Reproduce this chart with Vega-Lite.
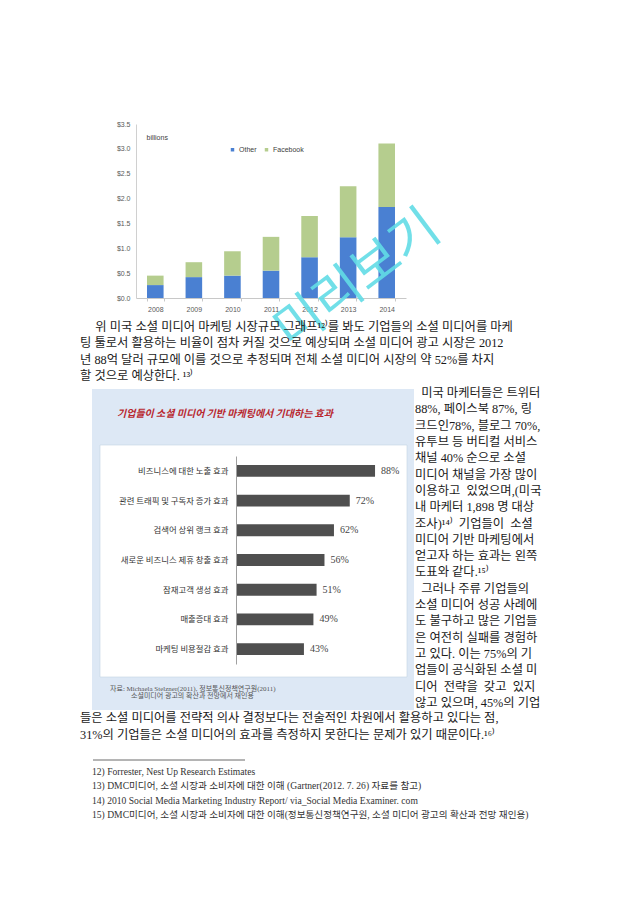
{
  "$schema": "https://vega.github.io/schema/vega-lite/v6.json",
  "padding": 0,
  "background": "white",
  "spacing": 0,
  "bounds": "flush",
  "config": {"view": {"stroke": null}, "font": "Liberation Sans"},
  "vconcat": [
    {
      "width": 640,
      "height": 298,
      "layer": [
        {
          "data": {"values": [
            {"year": "2008", "series": "Other", "value": 0.26},
            {"year": "2008", "series": "Facebook", "value": 0.19},
            {"year": "2009", "series": "Other", "value": 0.42},
            {"year": "2009", "series": "Facebook", "value": 0.30},
            {"year": "2010", "series": "Other", "value": 0.45},
            {"year": "2010", "series": "Facebook", "value": 0.49},
            {"year": "2011", "series": "Other", "value": 0.55},
            {"year": "2011", "series": "Facebook", "value": 0.68},
            {"year": "2012", "series": "Other", "value": 0.82},
            {"year": "2012", "series": "Facebook", "value": 0.83},
            {"year": "2013", "series": "Other", "value": 1.22},
            {"year": "2013", "series": "Facebook", "value": 1.03},
            {"year": "2014", "series": "Other", "value": 1.83},
            {"year": "2014", "series": "Facebook", "value": 1.28}
          ]},
          "mark": {"type": "bar"},
          "encoding": {
            "x": {"field": "year", "type": "ordinal",
              "scale": {"range": [136, 406], "paddingInner": 0.57, "paddingOuter": 0.285},
              "axis": {"title": null, "labelFontSize": 7, "labelColor": "#595959", "labelPadding": 4, "labelAngle": 0,
                "domainColor": "#c8c8c8", "ticks": true, "tickBand": "extent", "tickSize": 3, "tickColor": "#c8c8c8"}},
            "y": {"field": "value", "type": "quantitative", "stack": "zero",
              "scale": {"domain": [0, 3.5], "range": [298, 124], "nice": false},
              "axis": {"offset": -136, "values": [0, 0.5, 1, 1.5, 2, 2.5, 3, 3.5], "format": "$.1f",
                "labelFontSize": 7, "labelColor": "#595959", "labelPadding": 6, "ticks": false, "grid": false,
                "domainColor": "#d0d0d0", "title": "billions", "titleAngle": 0, "titleX": 10, "titleY": 137,
                "titleAlign": "left", "titleBaseline": "middle", "titleFontSize": 7, "titleFontWeight": "normal", "titleColor": "#404040"}},
            "color": {"field": "series", "type": "nominal",
              "scale": {"domain": ["Other", "Facebook"], "range": ["#4a80d2", "#b5cd8e"]},
              "legend": {"orient": "none", "legendX": 229, "legendY": 146, "direction": "horizontal", "title": null,
                "labelFontSize": 7, "labelColor": "#404040", "symbolType": "square", "symbolSize": 12,
                "symbolStrokeWidth": 0, "labelOffset": 3, "columnPadding": 6, "padding": 0}},
            "order": {"field": "series", "sort": "descending"}
          }
        },
        {
          "data": {"values": [{"year": "2013", "value": 0.22, "t": "미리보기"}]},
          "mark": {"type": "text", "angle": -37, "fontSize": 52, "font": "Noto Sans CJK KR", "fill": "#62dce5", "fillOpacity": 0.9, "align": "center", "baseline": "middle", "dx": 12},
          "encoding": {
            "x": {"field": "year", "type": "ordinal"},
            "y": {"field": "value", "type": "quantitative"},
            "text": {"field": "t"}
          }
        }
      ]
    },
    {
      "width": 640,
      "height": 86,
      "data": {"values": [
        {"i": 0, "t": "\u200b\u3000\u00a0위 미국 소셜 미디어 마케팅 시장규모 그래프¹²⁾를 봐도 기업들의 소셜 미디어를 마케"},
        {"i": 1, "t": "팅 툴로서 활용하는 비율이 점차 커질 것으로 예상되며 소셜 미디어 광고 시장은 2012"},
        {"i": 2, "t": "년 88억 달러 규모에 이를 것으로 추정되며 전체 소셜 미디어 시장의 약 52%를 차지"},
        {"i": 3, "t": "할 것으로 예상한다. ¹³⁾"}
      ]},
      "mark": {"type": "text", "align": "left", "baseline": "middle", "fontSize": 12.3, "font": "Liberation Serif, Noto Sans CJK KR", "color": "#1a1a1a"},
      "encoding": {
        "x": {"datum": 0, "type": "quantitative", "scale": {"domain": [0, 1], "range": [80, 550]}, "axis": null},
        "y": {"field": "i", "type": "quantitative", "scale": {"domain": [0, 3], "range": [28.7, 77.9]}, "axis": null},
        "text": {"field": "t"}
      }
    },
    {
      "width": 640,
      "height": 326,
      "resolve": {"scale": {"x": "independent", "y": "independent"}, "axis": {"x": "independent", "y": "independent"}},
      "layer": [
        {
          "data": {"values": [{}]},
          "mark": {"type": "rect", "color": "#dde8f5"},
          "encoding": {
            "x": {"datum": 0, "type": "quantitative", "scale": {"domain": [0, 1], "range": [92, 414]}, "axis": null},
            "x2": {"datum": 1},
            "y": {"datum": 0, "type": "quantitative", "scale": {"domain": [0, 1], "range": [5, 326]}, "axis": null},
            "y2": {"datum": 1}
          }
        },
        {
          "data": {"values": [{}]},
          "mark": {"type": "rect", "fill": "#ffffff", "stroke": "#c5d3e3", "strokeWidth": 0.6},
          "encoding": {
            "x": {"datum": 0, "type": "quantitative", "scale": {"domain": [0, 1], "range": [100, 407]}, "axis": null},
            "x2": {"datum": 1},
            "y": {"datum": 0, "type": "quantitative", "scale": {"domain": [0, 1], "range": [61, 293]}, "axis": null},
            "y2": {"datum": 1}
          }
        },
        {
          "data": {"values": [{"i": 0, "t": "기업들이 소셜 미디어 기반 마케팅에서 기대하는 효과"}]},
          "mark": {"type": "text", "align": "left", "baseline": "middle", "fontSize": 10, "fontWeight": "bold", "fontStyle": "italic", "font": "Noto Sans CJK KR", "color": "#b8272e"},
          "encoding": {
            "x": {"datum": 0, "type": "quantitative", "scale": {"domain": [0, 1], "range": [117, 118]}, "axis": null},
            "y": {"field": "i", "type": "quantitative", "scale": {"domain": [0, 1], "range": [30, 31]}, "axis": null},
            "text": {"field": "t"}
          }
        },
        {
          "data": {"values": [
            {"label": "비즈니스에 대한 노출 효과", "pct": 0.88},
            {"label": "관련 트래픽 및 구독자 증가 효과", "pct": 0.72},
            {"label": "검색어 상위 랭크 효과", "pct": 0.62},
            {"label": "새로운 비즈니스 제휴 창출 효과", "pct": 0.56},
            {"label": "잠재고객 생성 효과", "pct": 0.51},
            {"label": "매출증대 효과", "pct": 0.49},
            {"label": "마케팅 비용절감 효과", "pct": 0.43}
          ]},
          "layer": [
            {
              "mark": {"type": "bar", "color": "#4f4f4f"},
              "encoding": {
                "x": {"field": "pct", "type": "quantitative", "scale": {"domain": [0, 1], "range": [236, 394], "nice": false}, "axis": null},
                "y": {"field": "label", "type": "nominal", "sort": null,
                  "scale": {"range": [72, 280], "paddingInner": 0.6, "paddingOuter": 0.3},
                  "axis": {"orient": "left", "offset": -236, "zindex": 2, "title": null, "ticks": false, "domainColor": "#a0a0a0",
                    "labelFontSize": 8.4, "labelColor": "#333333", "labelPadding": 8, "labelFont": "Noto Sans CJK KR"}}
              }
            },
            {
              "mark": {"type": "text", "align": "left", "baseline": "middle", "dx": 6, "fontSize": 10, "font": "Liberation Serif", "color": "#454545"},
              "encoding": {
                "x": {"field": "pct", "type": "quantitative"},
                "y": {"field": "label", "type": "nominal", "sort": null},
                "text": {"field": "pct", "type": "quantitative", "format": ".0%"}
              }
            }
          ]
        },
        {
          "data": {"values": [
            {"i": 0, "t": "자료: Michaela Stelzner(2011), 정보통신정책연구원(2011)"},
            {"i": 1, "t": "\u200b\u3000\u3000\u3000소셜미디어 광고의 확산과 전망에서 재인용"}
          ]},
          "mark": {"type": "text", "align": "left", "baseline": "middle", "fontSize": 7, "font": "Liberation Serif, Noto Sans CJK KR", "color": "#555555"},
          "encoding": {
            "x": {"datum": 0, "type": "quantitative", "scale": {"domain": [0, 1], "range": [110, 111]}, "axis": null},
            "y": {"field": "i", "type": "quantitative", "scale": {"domain": [0, 1], "range": [305, 312]}, "axis": null},
            "text": {"field": "t"}
          }
        },
        {
          "data": {"values": [
            {"i": 0, "t": "\u200b\u00a0\u00a0미국 마케터들은 트위터"},
            {"i": 1, "t": "88%, 페이스북 87%, 링"},
            {"i": 2, "t": "크드인78%, 블로그 70%,"},
            {"i": 3, "t": "유투브 등 버티컬 서비스"},
            {"i": 4, "t": "채널 40% 순으로 소셜"},
            {"i": 5, "t": "미디어 채널을 가장 많이"},
            {"i": 6, "t": "이용하고\u00a0 있었으며,(미국"},
            {"i": 7, "t": "내 마케터 1,898 명 대상"},
            {"i": 8, "t": "조사)¹⁴⁾\u00a0 기업들이\u00a0 소셜"},
            {"i": 9, "t": "미디어 기반 마케팅에서"},
            {"i": 10, "t": "얻고자 하는 효과는 왼쪽"},
            {"i": 11, "t": "도표와 같다.¹⁵⁾"},
            {"i": 12, "t": "\u200b\u00a0\u00a0그러나 주류 기업들의"},
            {"i": 13, "t": "소셜 미디어 성공 사례에"},
            {"i": 14, "t": "도 불구하고 많은 기업들"},
            {"i": 15, "t": "은 여전히 실패를 경험하"},
            {"i": 16, "t": "고 있다. 이는 75%의 기"},
            {"i": 17, "t": "업들이 공식화된 소셜 미"},
            {"i": 18, "t": "디어\u00a0 전략을\u00a0 갖고\u00a0 있지"},
            {"i": 19, "t": "않고 있으며, 45%의 기업"}
          ]},
          "mark": {"type": "text", "align": "left", "baseline": "middle", "fontSize": 12.3, "font": "Liberation Serif, Noto Sans CJK KR", "color": "#1a1a1a"},
          "encoding": {
            "x": {"datum": 0, "type": "quantitative", "scale": {"domain": [0, 1], "range": [415, 416]}, "axis": null},
            "y": {"field": "i", "type": "quantitative", "scale": {"domain": [0, 19], "range": [9, 319]}, "axis": null},
            "text": {"field": "t"}
          }
        }
      ]
    },
    {
      "width": 640,
      "height": 195,
      "resolve": {"scale": {"x": "independent", "y": "independent"}},
      "layer": [
        {
          "data": {"values": [
            {"i": 0, "t": "들은 소셜 미디어를 전략적 의사 결정보다는 전술적인 차원에서 활용하고 있다는 점,"},
            {"i": 1, "t": "31%의 기업들은 소셜 미디어의 효과를 측정하지 못한다는 문제가 있기 때문이다.¹⁶⁾"}
          ]},
          "mark": {"type": "text", "align": "left", "baseline": "middle", "fontSize": 12.3, "font": "Liberation Serif, Noto Sans CJK KR", "color": "#1a1a1a"},
          "encoding": {
            "x": {"datum": 0, "type": "quantitative", "scale": {"domain": [0, 1], "range": [80, 81]}, "axis": null},
            "y": {"field": "i", "type": "quantitative", "scale": {"domain": [0, 1], "range": [7.5, 24.5]}, "axis": null},
            "text": {"field": "t"}
          }
        },
        {
          "data": {"values": [{}]},
          "mark": {"type": "rule", "color": "#444444", "strokeWidth": 0.8},
          "encoding": {
            "x": {"datum": 0, "type": "quantitative", "scale": {"domain": [0, 1], "range": [93, 245]}, "axis": null},
            "x2": {"datum": 1},
            "y": {"datum": 0, "type": "quantitative", "scale": {"domain": [0, 1], "range": [50, 51]}, "axis": null}
          }
        },
        {
          "data": {"values": [
            {"i": 0, "t": "12) Forrester, Nest Up Research Estimates"},
            {"i": 1, "t": "13) DMC미디어, 소셜 시장과 소비자에 대한 이해 (Gartner(2012. 7. 26) 자료를 참고)"},
            {"i": 2, "t": "14) 2010 Social Media Marketing Industry Report/ via_Social Media Examiner. com"},
            {"i": 3, "t": "15) DMC미디어, 소셜 시장과 소비자에 대한 이해(정보통신정책연구원, 소셜 미디어 광고의 확산과 전망 재인용)"}
          ]},
          "mark": {"type": "text", "align": "left", "baseline": "middle", "fontSize": 9.6, "font": "Liberation Serif, Noto Sans CJK KR", "color": "#333333"},
          "encoding": {
            "x": {"datum": 0, "type": "quantitative", "scale": {"domain": [0, 1], "range": [92, 93]}, "axis": null},
            "y": {"field": "i", "type": "quantitative", "scale": {"domain": [0, 3], "range": [62, 105]}, "axis": null},
            "text": {"field": "t"}
          }
        }
      ]
    }
  ]
}
